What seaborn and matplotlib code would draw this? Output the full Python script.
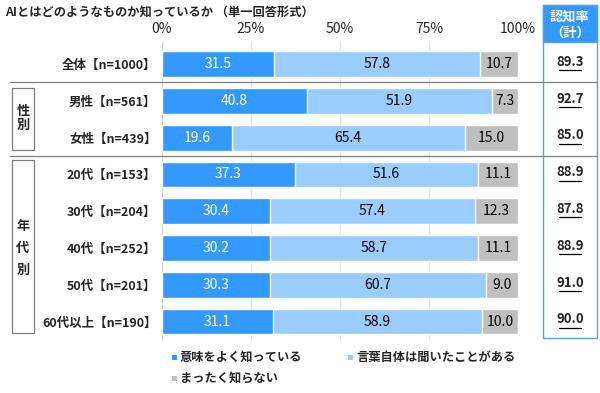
import numpy as np
import pandas as pd
import matplotlib
matplotlib.use('Agg')
import matplotlib.pyplot as plt
import matplotlib.patches as mpatches
from matplotlib.lines import Line2D
from matplotlib.transforms import blended_transform_factory
import seaborn as sns

# data
labels = ['全体【n=1000】', '男性【n=561】', '女性【n=439】', '20代【n=153】',
          '30代【n=204】', '40代【n=252】', '50代【n=201】', '60代以上【n=190】']
know_well = [31.5, 40.8, 19.6, 37.3, 30.4, 30.2, 30.3, 31.1]
heard_word = [57.8, 51.9, 65.4, 51.6, 57.4, 58.7, 60.7, 58.9]
not_know = [10.7, 7.3, 15.0, 11.1, 12.3, 11.1, 9.0, 10.0]
aware_total = ['89.3', '92.7', '85.0', '88.9', '87.8', '88.9', '91.0', '90.0']
series_names = ['意味をよく知っている', '言葉自体は聞いたことがある', 'まったく知らない']
xticks = [0, 25, 50, 75, 100]

c_dark = '#3399FF'
c_light = '#99CCFF'
c_gray = '#BFBFBF'

sns.set_style('white')
plt.rcParams['font.family'] = ['Noto Sans CJK JP', 'DejaVu Sans']

df = pd.DataFrame({'label': labels, 'a': know_well, 'b': heard_word, 'c': not_know})
df['ab'] = df['a'] + df['b']
df['abc'] = df['ab'] + df['c']

W, H = 600, 393
fig = plt.figure(figsize=(6, 3.93), dpi=100)
ax = fig.add_axes([162 / W, 1 - 340 / H, 356 / W, 298 / H])

def px(x, y):
    return x / W, 1 - y / H

# stacked bars: draw cumulative totals back to front
sns.barplot(data=df, x='abc', y='label', color=c_gray, width=0.7, ax=ax, saturation=1, zorder=2)
sns.barplot(data=df, x='ab', y='label', color=c_light, width=0.7, ax=ax, saturation=1, zorder=2)
sns.barplot(data=df, x='a', y='label', color=c_dark, width=0.7, ax=ax, saturation=1, zorder=2)

ax.set_xlim(0, 100)
ax.set_ylim(7.5, -0.6)
ax.set_xlabel('')
ax.set_ylabel('')
ax.xaxis.tick_top()
ax.set_xticks(xticks)
ax.set_xticklabels([f'{t}%' for t in xticks], fontsize=10)
ax.tick_params(axis='x', length=0, pad=4)
ax.tick_params(axis='y', length=0, pad=4)
for t in ax.get_yticklabels():
    t.set_fontsize(9)
    t.set_fontweight('bold')
for s in ax.spines.values():
    s.set_visible(False)
ax.grid(axis='x', color='#E3E3E3', lw=0.8, zorder=0)
ax.axvline(0, color='#D0D0D0', lw=0.8, zorder=1)

# segment value labels
for i, row in df.iterrows():
    ax.text(row['a'] / 2, i, f"{row['a']:.1f}", ha='center', va='center',
            color='white', fontsize=10, zorder=5)
    ax.text(row['a'] + row['b'] / 2, i, f"{row['b']:.1f}", ha='center', va='center',
            color='black', fontsize=10, zorder=5)
    ax.text(row['ab'] + row['c'] / 2, i, f"{row['c']:.1f}", ha='center', va='center',
            color='black', fontsize=10, zorder=5)

# title
fig.text(*px(5, 12), 'AIとはどのようなものか知っているか （単一回答形式）',
         fontsize=8.8, fontweight='bold', va='center', ha='left')

# recognition column
box_col = '#5A9FE0'
fig.add_artist(mpatches.Rectangle(px(543, 338), 54 / W, 333 / H, transform=fig.transFigure,
                                  fill=False, edgecolor=box_col, lw=1))
fig.add_artist(mpatches.Rectangle(px(543, 42), 54 / W, 37 / H, transform=fig.transFigure,
                                  facecolor=c_dark, edgecolor=box_col, lw=1))
fig.text(*px(570, 17), '認知率', color='white', fontsize=9.5, fontweight='bold',
         ha='center', va='center')
fig.text(*px(570, 33), '（計）', color='white', fontsize=9.5, fontweight='bold',
         ha='center', va='center')
trans = blended_transform_factory(ax.transAxes, ax.transData)
xc = (570 - 162) / 356
for i, v in enumerate(aware_total):
    ax.text(xc, i - 0.06, v, transform=trans, ha='center', va='center',
            fontsize=9.5, fontweight='bold', clip_on=False)
    ax.add_line(Line2D([xc - 0.032, xc + 0.032], [i + 0.17, i + 0.17], transform=trans,
                       color='black', lw=0.9, clip_on=False))

# group separators and boxes
for y in (81.5, 156):
    fig.add_artist(Line2D([10 / W, 597 / W], [1 - y / H] * 2, color='#808080', lw=0.9))
fig.add_artist(mpatches.Rectangle(px(12, 150), 22 / W, 62 / H, transform=fig.transFigure,
                                  fill=False, edgecolor='#7F7F7F', lw=0.9))
fig.add_artist(mpatches.Rectangle(px(12, 333), 22 / W, 173 / H, transform=fig.transFigure,
                                  fill=False, edgecolor='#7F7F7F', lw=0.9))
fig.text(*px(23, 118), '性\n別', fontsize=9.5, fontweight='bold', ha='center', va='center',
         linespacing=1.0)
fig.text(*px(23, 248), '年\n代\n別', fontsize=9.5, fontweight='bold', ha='center', va='center',
         linespacing=1.7)

# legend
leg_items = [(172, 357, c_dark, series_names[0]),
             (348, 357, c_light, series_names[1]),
             (172, 378, c_gray, series_names[2])]
for x, y, col, name in leg_items:
    fig.add_artist(mpatches.Rectangle(px(x, y + 3), 5 / W, 5 / H, transform=fig.transFigure,
                                      facecolor=col, edgecolor='none'))
    fig.text(*px(x + 8, y), name, fontsize=8.8, fontweight='bold', ha='left', va='center')

fig.savefig('out.png', dpi=100)
